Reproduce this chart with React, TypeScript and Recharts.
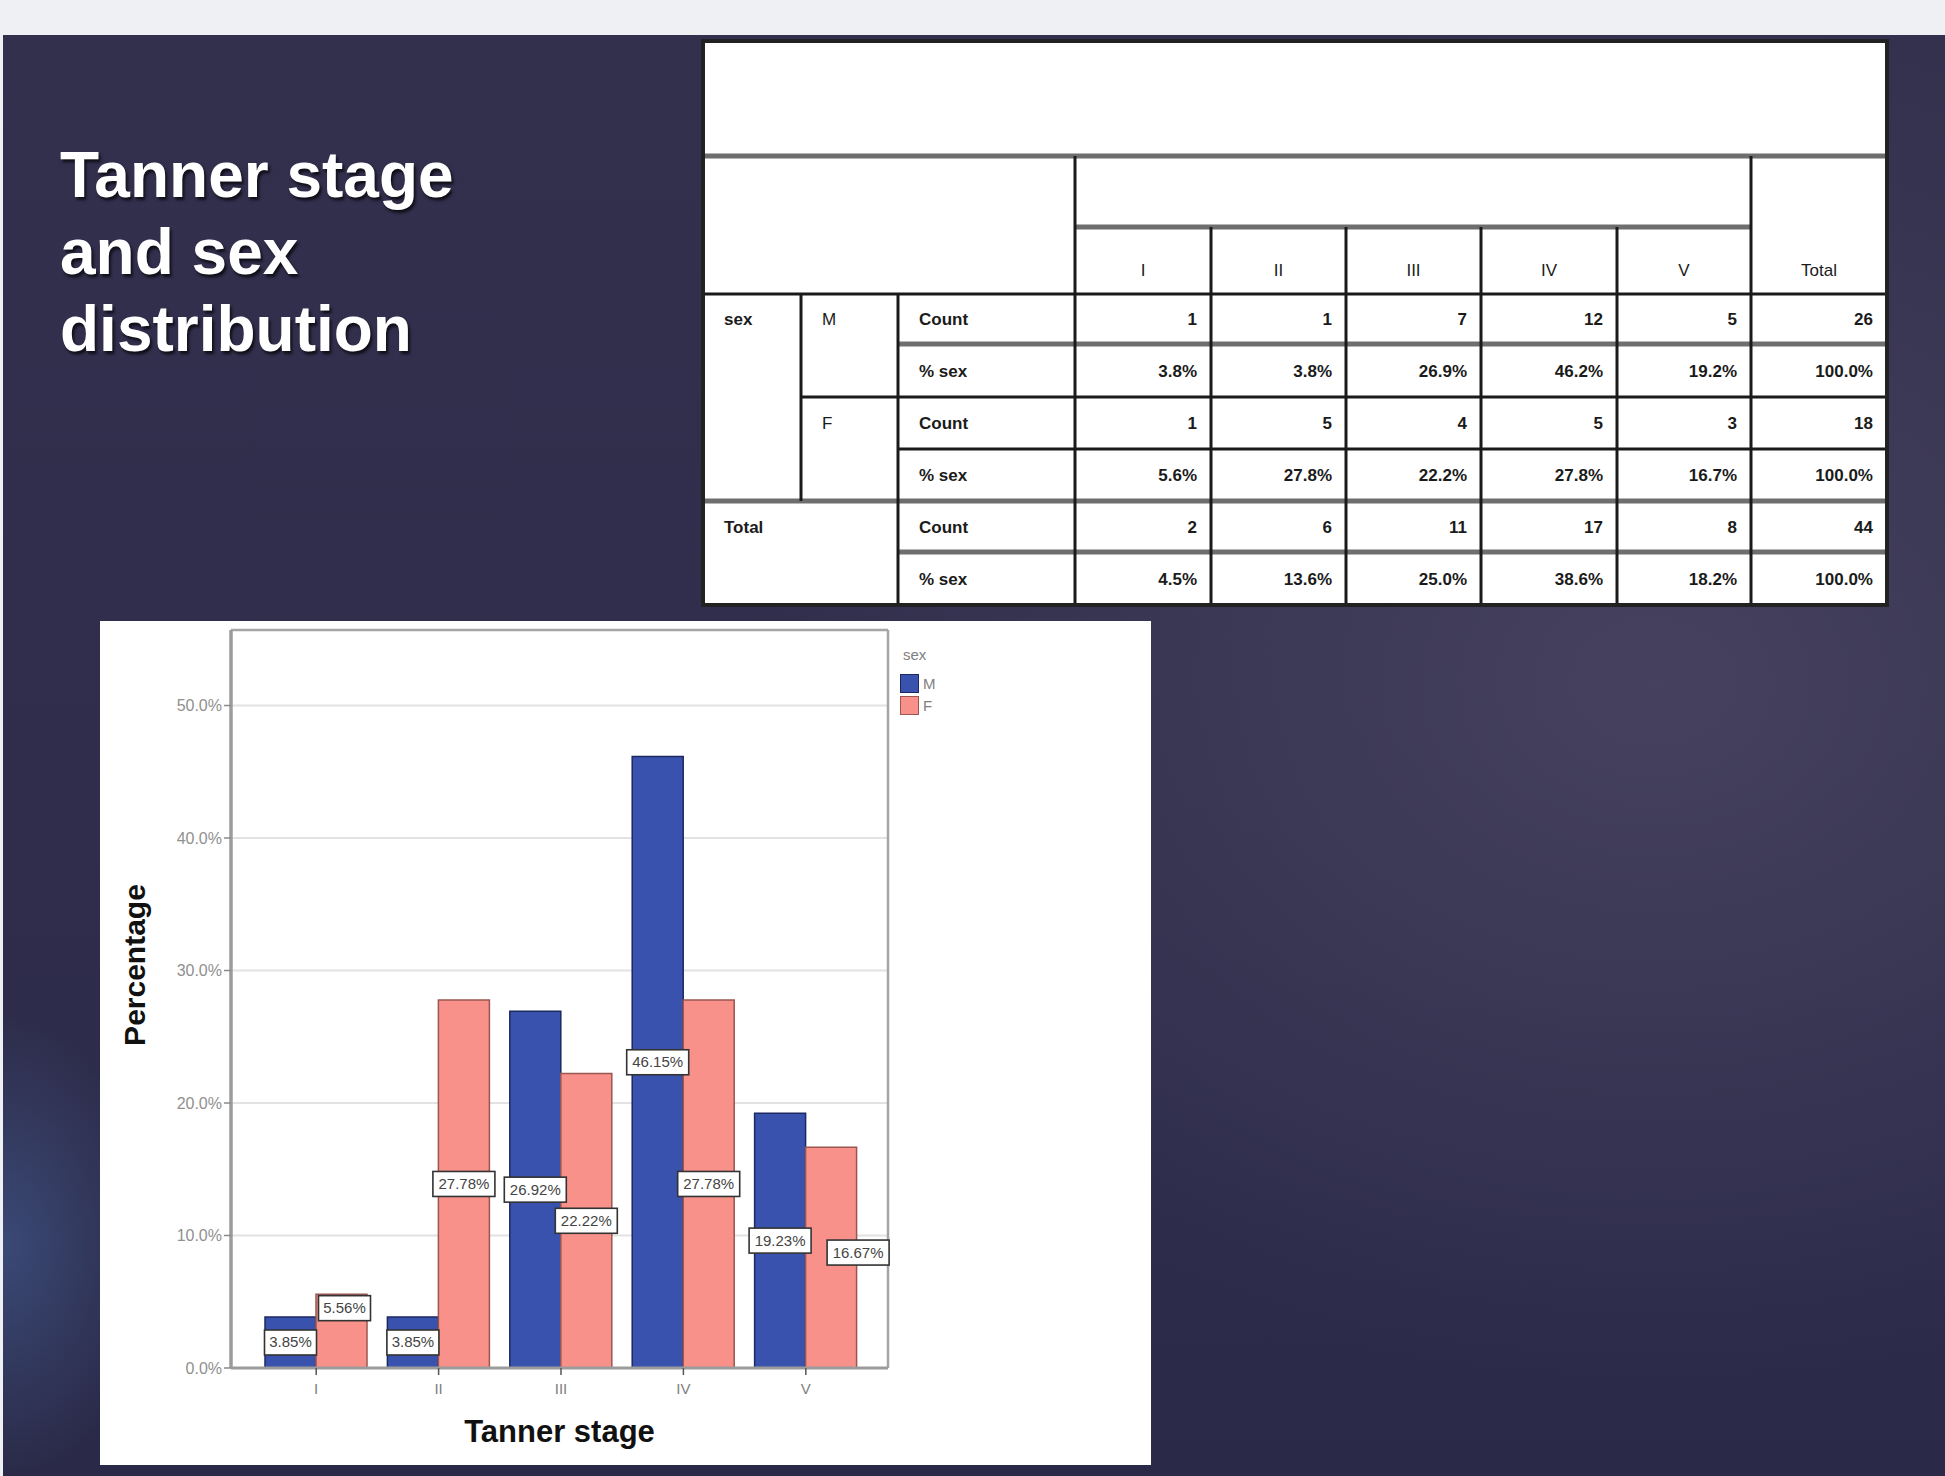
import React from 'react';
import { BarChart, Bar, XAxis, YAxis, CartesianGrid, LabelList, Legend } from 'recharts';

// chart values (percent within sex)
const stages = ['I', 'II', 'III', 'IV', 'V'];
const malePct = [3.85, 3.85, 26.92, 46.15, 19.23];
const femalePct = [5.56, 27.78, 22.22, 27.78, 16.67];
const yTicks = [0, 10, 20, 30, 40, 50];
const yMax = 55.7;

// crosstab rows
const tableHeader = ['I', 'II', 'III', 'IV', 'V', 'Total'];
const maleCount = ['1', '1', '7', '12', '5', '26'];
const maleRowPct = ['3.8%', '3.8%', '26.9%', '46.2%', '19.2%', '100.0%'];
const femaleCount = ['1', '5', '4', '5', '3', '18'];
const femaleRowPct = ['5.6%', '27.8%', '22.2%', '27.8%', '16.7%', '100.0%'];
const totalCount = ['2', '6', '11', '17', '8', '44'];
const totalRowPct = ['4.5%', '13.6%', '25.0%', '38.6%', '18.2%', '100.0%'];

const chartData = stages.map((stage, i) => ({ stage, M: malePct[i], F: femalePct[i] }));

const FONT = "'Liberation Sans', Arial, sans-serif";
const NARROW = "'Liberation Sans Narrow', 'Liberation Sans', Arial, sans-serif";

const series = [
  { key: 'M', fill: '#3852ae', stroke: '#1c2862' },
  { key: 'F', fill: '#f8918a', stroke: '#9a5650' },
];

// a couple of tags were moved by the original tool to avoid overlap
const tagNudge: Record<string, { dx: number; dy: number }> = {
  'F-0': { dx: 3, dy: -23 },
  'F-4': { dx: 27, dy: -5 },
};

function BarTag(props: any) {
  const { x, y, width, height, value, index, sKey } = props;
  const n = tagNudge[`${sKey}-${index}`] || { dx: 0, dy: 0 };
  const cx = x + width / 2 + n.dx;
  const cy = y + height / 2 + n.dy;
  const text = `${Number(value).toFixed(2)}%`;
  const w = text.length * 10 + 2;
  const h = 25;
  return (
    <g>
      <rect x={cx - w / 2} y={cy - h / 2} width={w} height={h} fill="#fff" stroke="#333" strokeWidth={1.6} />
      <text x={cx} y={cy + 5} textAnchor="middle" fontFamily={NARROW} fontSize={15} fill="#444">
        {text}
      </text>
    </g>
  );
}

function renderLegend() {
  return (
    <div style={{ fontFamily: FONT, fontSize: 15, color: '#808080', lineHeight: 1 }}>
      <div style={{ marginLeft: 3, marginBottom: 10 }}>sex</div>
      {series.map((s) => (
        <div key={s.key} style={{ display: 'flex', alignItems: 'center', height: 22 }}>
          <span style={{ width: 17, height: 17, background: s.fill, border: `1px solid ${s.stroke}` }} />
          <span style={{ marginLeft: 4 }}>{s.key}</span>
        </div>
      ))}
    </div>
  );
}

function CrossTab() {
  const cols = [703, 801, 898, 1075, 1211, 1346, 1481, 1617, 1751, 1887];
  const rows = [41, 156, 227, 294, 344, 397, 449, 501, 552, 605];
  const dark = '#1a1a1a';
  const grey = '#6e6e6e';
  const body = [
    { a: 'sex', b: 'M', c: 'Count', vals: maleCount },
    { a: '', b: '', c: '% sex', vals: maleRowPct },
    { a: '', b: 'F', c: 'Count', vals: femaleCount },
    { a: '', b: '', c: '% sex', vals: femaleRowPct },
    { a: 'Total', b: '', c: 'Count', vals: totalCount },
    { a: '', b: '', c: '% sex', vals: totalRowPct },
  ];
  const txt = { fontFamily: NARROW, fontSize: 17, fontWeight: 700, fill: '#1b1b1b' } as const;
  return (
    <svg width={1945} height={620} style={{ position: 'absolute', left: 0, top: 0 }}>
      <rect x={703} y={41} width={1184} height={564} fill="#fff" />
      <line x1={703} x2={1887} y1={156} y2={156} stroke={grey} strokeWidth={5} />
      <line x1={1075} x2={1751} y1={227} y2={227} stroke={grey} strokeWidth={5} />
      <line x1={703} x2={1887} y1={294} y2={294} stroke={dark} strokeWidth={3} />
      <line x1={898} x2={1887} y1={344} y2={344} stroke={grey} strokeWidth={5} />
      <line x1={801} x2={1887} y1={397} y2={397} stroke={dark} strokeWidth={3} />
      <line x1={898} x2={1887} y1={449} y2={449} stroke={dark} strokeWidth={3} />
      <line x1={703} x2={1887} y1={501} y2={501} stroke={grey} strokeWidth={5} />
      <line x1={898} x2={1887} y1={552} y2={552} stroke={grey} strokeWidth={5} />
      <line x1={1075} x2={1075} y1={156} y2={605} stroke={dark} strokeWidth={3} />
      <line x1={1751} x2={1751} y1={156} y2={605} stroke={dark} strokeWidth={3} />
      {cols.slice(4, 8).map((cx) => (
        <line key={cx} x1={cx} x2={cx} y1={227} y2={605} stroke={dark} strokeWidth={3} />
      ))}
      <line x1={801} x2={801} y1={294} y2={501} stroke={dark} strokeWidth={3} />
      <line x1={898} x2={898} y1={294} y2={605} stroke={dark} strokeWidth={3} />
      <rect x={703} y={41} width={1184} height={564} fill="none" stroke="#222" strokeWidth={4} />
      {tableHeader.map((h, i) => (
        <text key={h} x={(cols[i + 3] + cols[i + 4]) / 2} y={276} textAnchor="middle" {...txt} fontWeight={400}>
          {h}
        </text>
      ))}
      {body.map((r, ri) => {
        const cy = (rows[ri + 3] + rows[ri + 4]) / 2 + 6;
        return (
          <g key={ri}>
            {r.a && <text x={724} y={cy} {...txt}>{r.a}</text>}
            {r.b && <text x={822} y={cy} {...txt} fontWeight={400}>{r.b}</text>}
            <text x={919} y={cy} {...txt}>{r.c}</text>
            {r.vals.map((v, ci) => (
              <text key={ci} x={cols[ci + 4] - 14} y={cy} textAnchor="end" {...txt}>
                {v}
              </text>
            ))}
          </g>
        );
      })}
    </svg>
  );
}

export default function App() {
  return (
    <div style={{ position: 'absolute', left: 0, top: 0, width: 1945, height: 1476, background: '#eef0f4', overflow: 'hidden' }}>
      <div
        style={{
          position: 'absolute',
          left: 3,
          top: 35,
          width: 1942,
          height: 1441,
          background:
            'radial-gradient(ellipse 150px 230px at 0% 84%, rgba(70,98,155,0.55), rgba(70,98,155,0) 100%), radial-gradient(ellipse 900px 700px at 85% 45%, #45415f, rgba(69,65,95,0) 100%), linear-gradient(180deg, #33304e 0%, #2f2d4b 60%, #2a2a48 100%)',
        }}
      />
      <div
        style={{
          position: 'absolute',
          left: 60,
          top: 137,
          fontFamily: FONT,
          fontWeight: 700,
          fontSize: 64,
          lineHeight: '77px',
          color: '#ffffff',
          textShadow: '2px 3px 3px rgba(0,0,0,0.7)',
        }}
      >
        Tanner stage
        <br />
        and sex
        <br />
        distribution
      </div>
      <CrossTab />
      <div style={{ position: 'absolute', left: 100, top: 621, width: 1051, height: 844, background: '#fff' }}>
        <BarChart
          width={1051}
          height={844}
          data={chartData}
          margin={{ top: 9, right: 263, bottom: 0, left: 0 }}
          barCategoryGap={10}
          barGap={0}
        >
          <CartesianGrid vertical={false} stroke="#e2e2e2" strokeWidth={2} />
          {/* plot frame: top edge and right edge */}
          <CartesianGrid
            stroke="#a5a5a5"
            strokeWidth={2.5}
            horizontalCoordinatesGenerator={({ offset }: any) => [offset.top]}
            verticalCoordinatesGenerator={({ offset }: any) => [offset.left + offset.width]}
          />
          <XAxis
            dataKey="stage"
            height={97}
            padding={{ left: 24, right: 21 }}
            axisLine={{ stroke: '#9b9b9b', strokeWidth: 3 }}
            tickLine={{ stroke: '#555', strokeWidth: 1.5 }}
            tickSize={7}
            tickMargin={8}
            tick={{ fontFamily: FONT, fontSize: 15, fill: '#808080' }}
            label={(p: any) => (
              <text
                x={p.viewBox.x + p.viewBox.width / 2}
                y={p.viewBox.y + 74}
                textAnchor="middle"
                fontFamily={FONT}
                fontWeight={700}
                fontSize={31}
                fill="#111"
              >
                Tanner stage
              </text>
            )}
          />
          <YAxis
            width={131}
            domain={[0, yMax]}
            ticks={yTicks}
            tickFormatter={(v: number) => `${v.toFixed(1)}%`}
            axisLine={{ stroke: '#9b9b9b', strokeWidth: 3.5 }}
            tickLine={{ stroke: '#8a8a8a', strokeWidth: 1.5 }}
            tickSize={7}
            tick={{ fontFamily: FONT, fontSize: 16, fill: '#909090' }}
            label={(p: any) => {
              const x = p.viewBox.x + 34;
              const y = p.viewBox.y + p.viewBox.height / 2 - 34;
              return (
                <text
                  x={x}
                  y={y}
                  transform={`rotate(-90, ${x}, ${y})`}
                  textAnchor="middle"
                  dominantBaseline="central"
                  fontFamily={FONT}
                  fontWeight={700}
                  fontSize={30}
                  fill="#111"
                >
                  Percentage
                </text>
              );
            }}
          />
          <Legend
            layout="vertical"
            align="center"
            verticalAlign="middle"
            content={renderLegend}
            wrapperStyle={{ left: 800, top: 26, width: 80, height: 80 }}
          />
          {series.map((s) => (
            <Bar
              key={s.key}
              dataKey={s.key}
              name={s.key}
              fill={s.fill}
              stroke={s.stroke}
              strokeWidth={1.5}
              isAnimationActive={false}
            >
              <LabelList dataKey={s.key} content={(p: any) => <BarTag {...p} sKey={s.key} />} />
            </Bar>
          ))}
        </BarChart>
      </div>
    </div>
  );
}
